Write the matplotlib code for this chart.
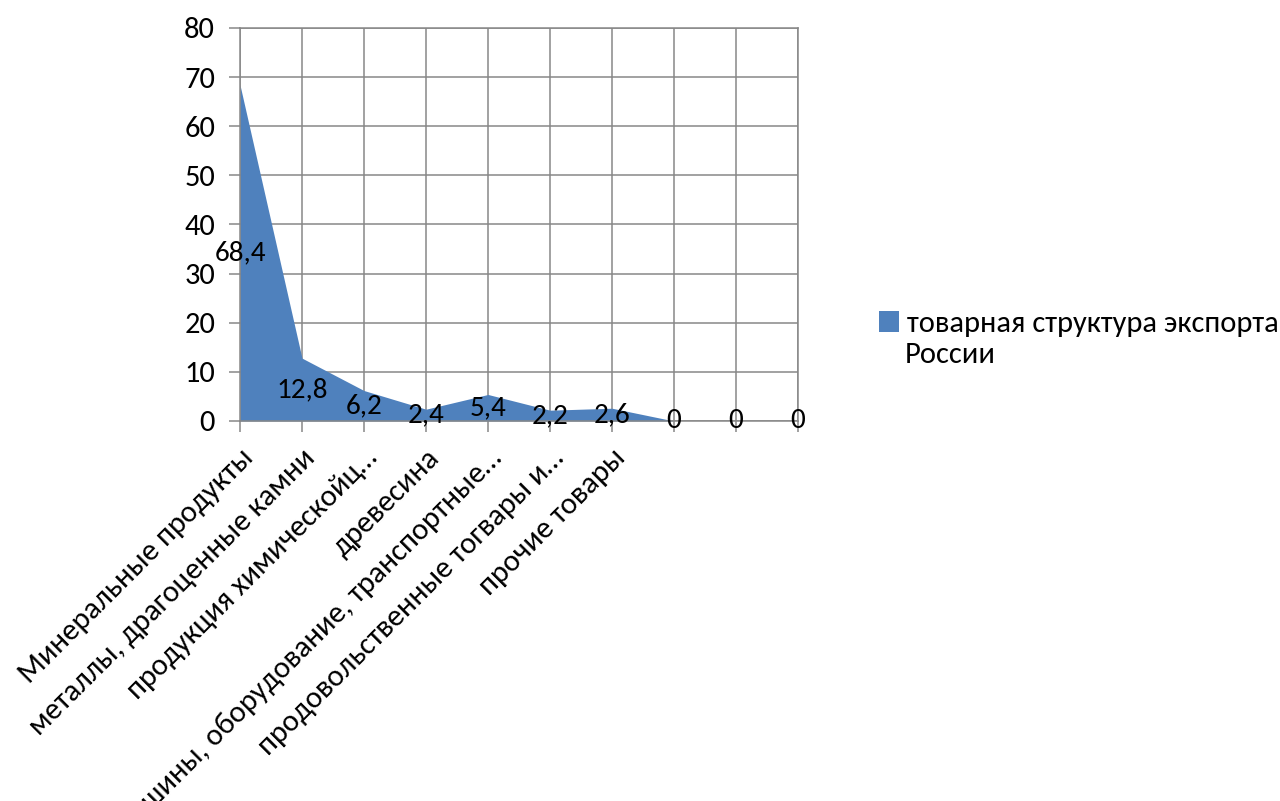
import matplotlib
matplotlib.use('Agg')
import matplotlib.pyplot as plt
from matplotlib.patches import Patch

plt.rcParams['font.family'] = ['Carlito', 'Open Sans', 'DejaVu Sans']

categories = ['Минеральные продукты',
              'металлы, драгоценные камни',
              'продукция химическойц…',
              'древесина',
              'машины, оборудование, транспортные…',
              'продовольственные тогвары и…',
              'прочие товары',
              '', '', '']
values = [68.4, 12.8, 6.2, 2.4, 5.4, 2.2, 2.6, 0, 0, 0]
value_labels = ['68,4', '12,8', '6,2', '2,4', '5,4', '2,2', '2,6', '0', '0', '0']
series_line1 = 'товарная структура экспорта'
series_line2 = 'России'

fill_color = '#4F81BD'
grid_color = '#878787'
fs = 22

fig = plt.figure(figsize=(12.8, 8.01), dpi=100)
ax = fig.add_axes([240 / 1280, 1 - 421 / 801, (798 - 240) / 1280, (421 - 28) / 801])

x = list(range(len(values)))
ax.fill_between(x, values, 0, color=fill_color, linewidth=0, zorder=2)

for xi, v, lab in zip(x, values, value_labels):
    ax.text(xi, v / 2, lab, ha='center', va='center', fontsize=21, color='black', zorder=3)

ax.set_xlim(0, len(values) - 1)
ax.set_ylim(0, 80)
ax.set_yticks(range(0, 81, 10))
ax.set_xticks(x)
ax.set_xticklabels(categories, rotation=45, ha='right', rotation_mode='anchor', fontsize=fs)

ax.grid(True, color=grid_color, linewidth=1.1, zorder=1)
ax.set_axisbelow(True)
for s in ax.spines.values():
    s.set_color(grid_color)
    s.set_linewidth(1.1)
ax.tick_params(axis='both', direction='out', length=8, width=1.1, color=grid_color,
               labelsize=fs, labelcolor='black')
ax.tick_params(axis='y', pad=10)
ax.tick_params(axis='x', pad=9)

fig.legend([Patch(facecolor=fill_color, edgecolor='none')], [series_line1],
           loc='upper left', bbox_to_anchor=(867 / 1280, 1 - 299 / 801),
           frameon=False, fontsize=fs, handlelength=0.65, handleheight=0.65,
           handletextpad=0.25, borderaxespad=0)
fig.text(905 / 1280, 1 - 355 / 801, series_line2, fontsize=fs, ha='left', va='center')

fig.savefig('out.png', dpi=100)
